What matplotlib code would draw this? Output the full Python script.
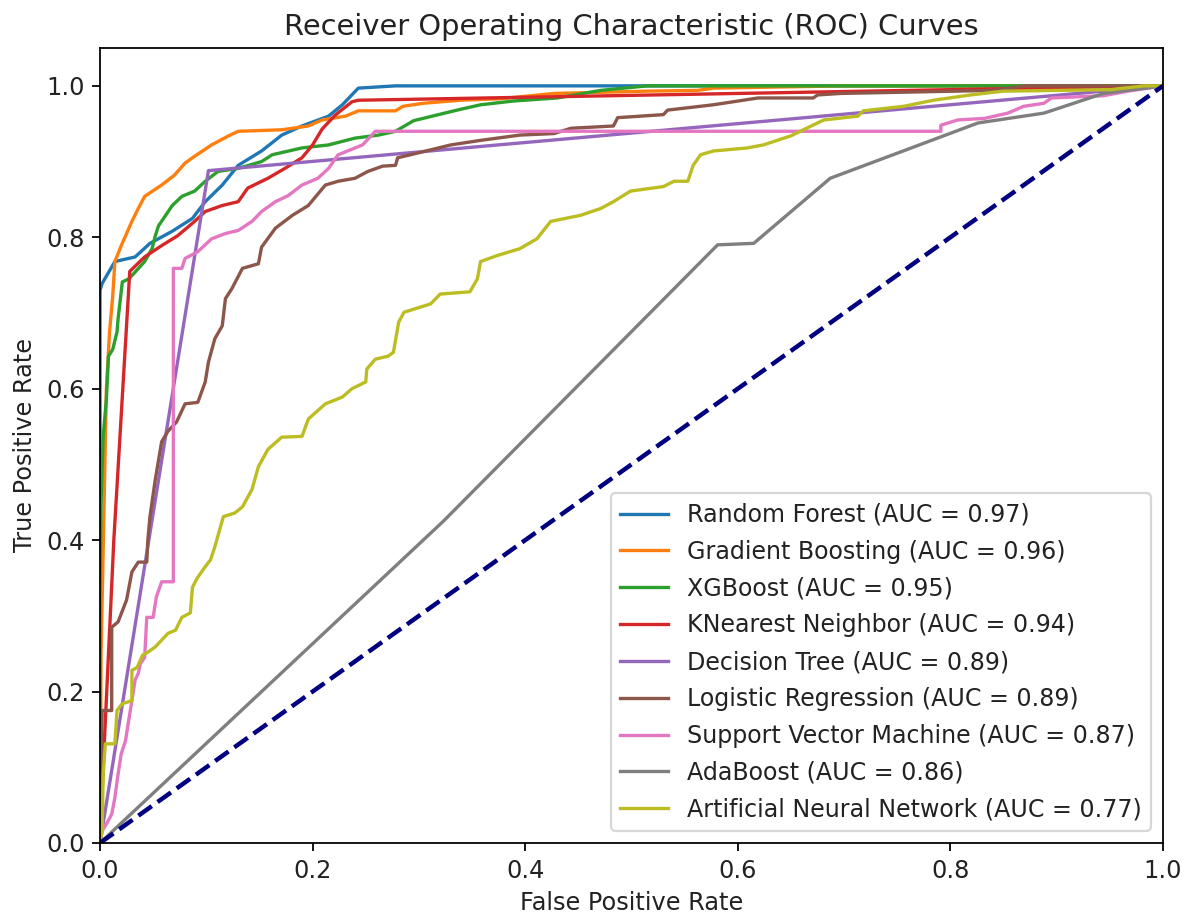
import matplotlib
matplotlib.use("Agg")
import matplotlib.pyplot as plt

# ---- data ----
models = ["Random Forest", "Gradient Boosting", "XGBoost", "KNearest Neighbor",
          "Decision Tree", "Logistic Regression", "Support Vector Machine",
          "AdaBoost", "Artificial Neural Network"]
aucs = [0.97, 0.96, 0.95, 0.94, 0.89, 0.89, 0.87, 0.86, 0.77]
colors = ["tab:blue", "tab:orange", "tab:green", "tab:red", "tab:purple",
          "tab:brown", "tab:pink", "tab:gray", "tab:olive"]

rf_fpr = [0, 0, 0.002, 0.014, 0.033, 0.047, 0.068, 0.087, 0.099, 0.115, 0.13, 0.152,
          0.171, 0.19, 0.215, 0.228, 0.243, 0.278, 1.0]
rf_tpr = [0, 0.73, 0.739, 0.768, 0.774, 0.792, 0.808, 0.825, 0.847, 0.869, 0.895, 0.914,
          0.935, 0.947, 0.96, 0.975, 0.997, 1.0, 1.0]

gb_fpr = [0, 0.001, 0.003, 0.006, 0.009, 0.012, 0.014, 0.02, 0.03, 0.036, 0.042, 0.058,
          0.07, 0.08, 0.089, 0.105, 0.121, 0.13, 0.171, 0.196, 0.209, 0.231, 0.243, 0.278,
          0.285, 0.304, 0.339, 0.377, 0.427, 0.515, 0.562, 0.577, 0.7, 1.0]
gb_tpr = [0, 0.25, 0.387, 0.6, 0.675, 0.723, 0.768, 0.789, 0.821, 0.838, 0.854, 0.869,
          0.882, 0.898, 0.907, 0.922, 0.934, 0.94, 0.942, 0.947, 0.955, 0.96, 0.967, 0.967,
          0.973, 0.977, 0.981, 0.983, 0.99, 0.993, 0.994, 0.997, 1.0, 1.0]

xgb_fpr = [0, 0.0, 0.001, 0.003, 0.006, 0.008, 0.012, 0.016, 0.017, 0.021, 0.027, 0.033,
           0.042, 0.049, 0.052, 0.055, 0.068, 0.077, 0.089, 0.099, 0.111, 0.13, 0.152,
           0.162, 0.19, 0.215, 0.24, 0.262, 0.278, 0.295, 0.336, 0.358, 0.389, 0.43,
           0.471, 0.515, 1.0]
xgb_tpr = [0, 0.33, 0.45, 0.537, 0.586, 0.643, 0.652, 0.675, 0.692, 0.741, 0.745, 0.754,
           0.768, 0.785, 0.802, 0.815, 0.842, 0.854, 0.861, 0.874, 0.887, 0.891, 0.9,
           0.909, 0.918, 0.922, 0.931, 0.935, 0.94, 0.954, 0.968, 0.975, 0.98, 0.984,
           0.994, 1.0, 1.0]

knn_fpr = [0, 0.003, 0.013, 0.028, 0.042, 0.058, 0.073, 0.089, 0.099, 0.115, 0.13, 0.139,
           0.158, 0.174, 0.19, 0.2, 0.209, 0.221, 0.237, 0.243, 0.84, 1.0]
knn_tpr = [0, 0.1, 0.4, 0.755, 0.774, 0.789, 0.802, 0.821, 0.834, 0.842, 0.847, 0.865,
           0.878, 0.891, 0.905, 0.922, 0.943, 0.961, 0.979, 0.981, 0.996, 1.0]

dt_fpr = [0, 0.102, 1.0]
dt_tpr = [0, 0.888, 1.0]

lr_fpr = [0, 0.002, 0.011, 0.011, 0.017, 0.025, 0.03, 0.036, 0.044, 0.045, 0.047, 0.052,
          0.058, 0.064, 0.072, 0.08, 0.092, 0.099, 0.102, 0.108, 0.115, 0.118, 0.124,
          0.134, 0.149, 0.152, 0.165, 0.181, 0.196, 0.212, 0.224, 0.24, 0.252, 0.266,
          0.278, 0.28, 0.298, 0.33, 0.358, 0.395, 0.427, 0.443, 0.483, 0.487, 0.53, 0.534,
          0.577, 0.619, 0.671, 0.675, 0.697, 0.841, 0.87, 1.0]
lr_tpr = [0, 0.175, 0.175, 0.285, 0.292, 0.321, 0.358, 0.371, 0.371, 0.4, 0.431, 0.48,
          0.53, 0.544, 0.556, 0.58, 0.582, 0.609, 0.635, 0.666, 0.683, 0.719, 0.732,
          0.759, 0.765, 0.787, 0.812, 0.829, 0.842, 0.869, 0.874, 0.878, 0.887, 0.894,
          0.895, 0.905, 0.911, 0.922, 0.928, 0.935, 0.937, 0.944, 0.947, 0.958, 0.962,
          0.968, 0.975, 0.984, 0.984, 0.988, 0.99, 0.994, 1.0, 1.0]

svm_fpr = [0, 0.002, 0.006, 0.011, 0.014, 0.017, 0.02, 0.024, 0.027, 0.03, 0.033, 0.036,
           0.038, 0.042, 0.044, 0.05, 0.053, 0.058, 0.069, 0.069, 0.077, 0.08, 0.092,
           0.105, 0.118, 0.13, 0.143, 0.152, 0.165, 0.177, 0.19, 0.205, 0.215, 0.224,
           0.24, 0.247, 0.259, 0.791, 0.791, 0.807, 0.832, 0.854, 0.869, 0.888, 0.895,
           0.944, 0.967, 1.0]
svm_tpr = [0, 0.016, 0.025, 0.038, 0.06, 0.091, 0.118, 0.135, 0.162, 0.188, 0.215, 0.224,
           0.237, 0.245, 0.298, 0.298, 0.325, 0.345, 0.345, 0.759, 0.759, 0.772, 0.781,
           0.798, 0.805, 0.809, 0.821, 0.834, 0.847, 0.855, 0.869, 0.878, 0.891, 0.909,
           0.918, 0.922, 0.94, 0.94, 0.948, 0.955, 0.957, 0.964, 0.973, 0.977, 0.984,
           0.987, 0.993, 1.0]

ada_fpr = [0, 0.323, 0.581, 0.615, 0.687, 0.826, 0.888, 0.944, 1.0]
ada_tpr = [0, 0.425, 0.79, 0.792, 0.878, 0.951, 0.964, 0.99, 1.0]

ann_fpr = [0, 0.002, 0.003, 0.005, 0.014, 0.016, 0.021, 0.03, 0.03, 0.035, 0.04, 0.045,
           0.052, 0.058, 0.064, 0.071, 0.077, 0.085, 0.087, 0.092, 0.099, 0.104, 0.108,
           0.116, 0.127, 0.134, 0.143, 0.149, 0.158, 0.171, 0.19, 0.196, 0.212, 0.228,
           0.237, 0.25, 0.251, 0.259, 0.271, 0.276, 0.281, 0.286, 0.295, 0.311, 0.32,
           0.348, 0.355, 0.358, 0.374, 0.395, 0.411, 0.424, 0.452, 0.471, 0.483, 0.499,
           0.53, 0.54, 0.553, 0.558, 0.565, 0.577, 0.609, 0.624, 0.65, 0.669, 0.681,
           0.713, 0.718, 0.756, 0.784, 0.819, 0.85, 0.951, 0.982, 1.0]
ann_tpr = [0, 0.016, 0.09, 0.131, 0.131, 0.175, 0.184, 0.188, 0.228, 0.232, 0.248, 0.252,
           0.259, 0.268, 0.277, 0.281, 0.298, 0.304, 0.338, 0.351, 0.365, 0.374, 0.391,
           0.431, 0.436, 0.444, 0.467, 0.497, 0.52, 0.536, 0.537, 0.56, 0.58, 0.589, 0.6,
           0.609, 0.626, 0.639, 0.643, 0.648, 0.688, 0.701, 0.705, 0.712, 0.725, 0.728,
           0.745, 0.768, 0.776, 0.785, 0.798, 0.821, 0.829, 0.838, 0.847, 0.861, 0.867,
           0.874, 0.874, 0.895, 0.909, 0.914, 0.918, 0.922, 0.934, 0.947, 0.955, 0.96,
           0.967, 0.973, 0.981, 0.988, 0.993, 0.995, 1.0, 1.0]

curves = [(rf_fpr, rf_tpr), (gb_fpr, gb_tpr), (xgb_fpr, xgb_tpr), (knn_fpr, knn_tpr),
          (dt_fpr, dt_tpr), (lr_fpr, lr_tpr), (svm_fpr, svm_tpr), (ada_fpr, ada_tpr),
          (ann_fpr, ann_tpr)]

# ---- figure ----
DPI = 160
plt.rcParams["font.size"] = 10.8
plt.rcParams["text.color"] = "#222222"
plt.rcParams["xtick.labelcolor"] = "#222222"
plt.rcParams["ytick.labelcolor"] = "#222222"
plt.rcParams["axes.labelcolor"] = "#222222"

fig = plt.figure(figsize=(1189 / DPI, 916 / DPI), dpi=DPI)
ax = fig.add_axes([100 / 1189, (916 - 843) / 916, (1163 - 100) / 1189, (843 - 48) / 916])

for (fpr, tpr), name, auc, c in zip(curves, models, aucs, colors):
    ax.plot(fpr, tpr, color=c, lw=1.5, label=f"{name} (AUC = {auc:.2f})")

ax.plot([0, 1], [0, 1], color="navy", lw=2, linestyle="--")
ax.set_xlim(0.0, 1.0)
ax.set_ylim(0.0, 1.05)
ax.tick_params(labelsize=10.8)
ax.set_xlabel("False Positive Rate", fontsize=10.8)
ax.set_ylabel("True Positive Rate", fontsize=10.8)
ax.set_title("Receiver Operating Characteristic (ROC) Curves", fontsize=13)
ax.legend(loc="lower right", fontsize=10.7, labelspacing=0.54)

fig.savefig("out.png", dpi=DPI)
